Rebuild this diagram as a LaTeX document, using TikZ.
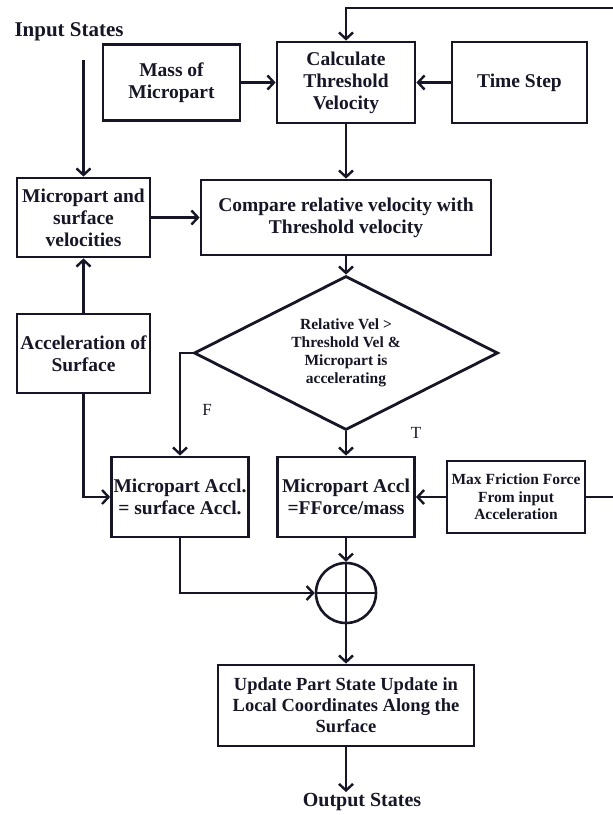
\documentclass[tikz,border=0pt]{standalone}
\usepackage{fontspec}
\setmainfont{Liberation Serif}
\usepackage{tikz}
\usetikzlibrary{arrows.meta,shapes.geometric}
\definecolor{cencre}{RGB}{22,22,38}

\begin{document}
\begin{tikzpicture}[x=1pt, y=-1pt, color=cencre, >={Straight Barb[length=6.5pt,width=14pt]},
  blok/.style={draw, line width=2.8pt, align=center, inner sep=2pt,
    font=\bfseries\fontsize{19.5}{22}\selectfont},
  petit/.style={font=\bfseries\fontsize{15.5}{17.5}\selectfont},
  fleche/.style={->, line width=2.4pt},
  trait/.style={line width=2.4pt}]
\useasboundingbox (0,0) rectangle (613,815);
\node[anchor=west, font=\bfseries\fontsize{21}{24}\selectfont] (entree) at (11,32) {Input States};
\node[blok, minimum width=137pt, minimum height=76pt] (masse) at (171.5,82.5) {Mass of\\Micropart};
\node[blok, minimum width=138pt, minimum height=81pt] (calc) at (346,82.5) {Calculate\\Threshold\\Velocity};
\node[blok, minimum width=135pt, minimum height=81pt] (pas) at (519.5,82.5) {Time Step};
\node[blok, minimum width=133pt, minimum height=79pt] (vel) at (83.5,217.5) {Micropart and\\surface\\velocities};
\node[blok, minimum width=290pt, minimum height=75pt] (comp) at (346,217.5) {Compare relative velocity with\\Threshold velocity};
\node[draw, diamond, line width=2.8pt, aspect=2, inner sep=1pt, minimum width=304pt, minimum height=154pt,
  align=center, font=\bfseries\fontsize{15.5}{18}\selectfont] (test) at (346,353)
  {Relative Vel >\\Threshold Vel \&\\Micropart is\\accelerating};
\node[blok, minimum width=133pt, minimum height=79pt] (acc) at (83.5,353.5) {Acceleration of\\Surface};
\node[blok, minimum width=136pt, minimum height=80pt] (sa) at (180,497) {Micropart Accl.\\= surface Accl.};
\node[blok, minimum width=137pt, minimum height=80pt] (fa) at (346,497) {Micropart Accl\\=FForce/mass};
\node[blok, petit, minimum width=138pt, minimum height=72pt] (frott) at (516,497) {Max Friction Force\\From input\\Acceleration};
\node[draw, circle, line width=2.6pt, minimum size=60pt, inner sep=0pt] (somme) at (346,593) {};
\node[blok, font=\bfseries\fontsize{18.5}{21}\selectfont, minimum width=256pt, minimum height=81pt] (maj) at (346,705.5)
  {Update Part State Update in\\Local Coordinates Along the\\Surface};
\node[font=\bfseries\fontsize{20}{23}\selectfont, inner sep=1pt] (sortie) at (362,802) {Output States};
\node[font=\fontsize{17}{20}\selectfont] (lblF) at (207,410) {F};
\node[font=\fontsize{17}{20}\selectfont] (lblT) at (416,433) {T};
% free ends of the loops leaving the picture on the right
\coordinate (retourH) at (613,8);
\coordinate (frottD) at (613,497);
\coordinate (entreeB) at (83.5,60);
\draw[fleche] (retourH) -| (calc.north);
\draw[fleche] (entreeB) -- (vel.north);
\foreach \a/\b in {masse.east/calc.west, pas.west/calc.east, calc.south/comp.north,
  vel.east/comp.west, comp.south/test.north, acc.north/vel.south, test.south/fa.north,
  frott.west/fa.east, fa.south/somme.north, somme.south/maj.north}
  \draw[fleche] (\a) -- (\b);
\draw[fleche] (acc.south) |- (sa.west);
\draw[fleche] (test.west) -| (sa.north);
\draw[fleche] (sa.south) |- (somme.west);
\draw[fleche] (maj.south) -- (maj.south |- sortie.north);
\draw[trait] (frott.east) -- (frottD);
\draw[trait] (somme.north) -- (somme.south) (somme.west) -- (somme.east);
\end{tikzpicture}
\end{document}
